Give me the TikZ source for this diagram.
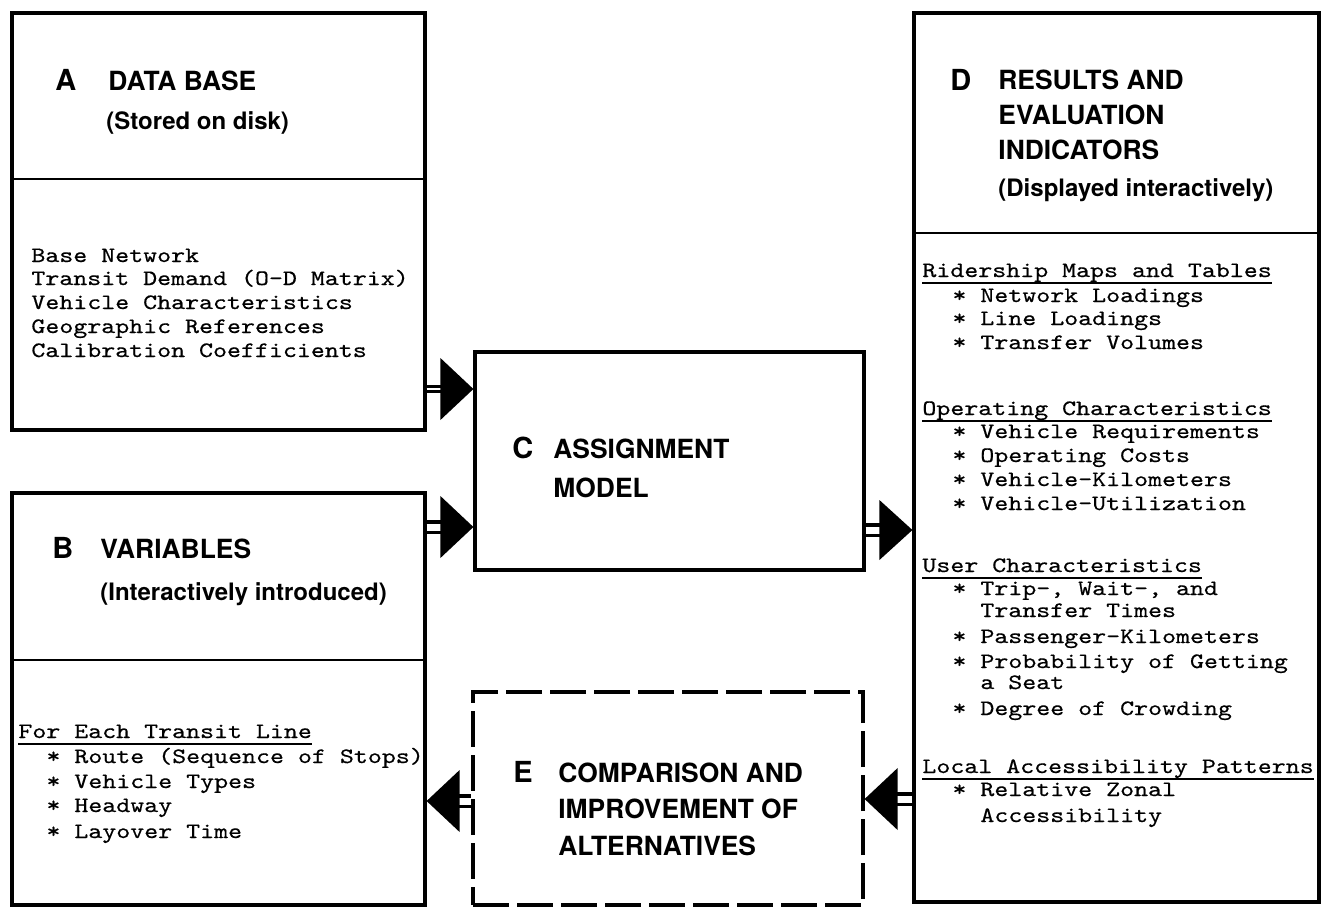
\documentclass[tikz,border=0pt]{standalone}
\usepackage{fontspec}
\setsansfont{TeX Gyre Heros}
% typewriter face for the listings, widened to a Courier-like cell
\newfontfamily\listfont[FakeStretch=1.21,FakeBold=0.5]{Latin Modern Mono}
\usetikzlibrary{fit}
% bullet placed one character cell before an item's text
\newcommand\bul{\llap{*\ }}
\begin{document}
\begin{tikzpicture}[x=0.5pt,y=-0.5pt,
  box/.style={draw, line width=1.6pt, inner sep=0pt},
  dbox/.style={box, dash pattern=on 18pt off 4pt},
  rule/.style={line width=1.4pt},
  letter/.style={anchor=base west, inner sep=0pt, font=\sffamily\bfseries\fontsize{14.5}{16}\selectfont},
  head/.style={anchor=base west, inner sep=0pt, font=\sffamily\bfseries\fontsize{13.2}{15}\selectfont},
  sub/.style={anchor=base west, inner sep=0pt, font=\sffamily\bfseries\fontsize{12}{14}\selectfont},
  mono/.style={anchor=base west, inner sep=0pt, font=\listfont\fontsize{11}{13}\selectfont},
  uline/.style={line width=0.8pt},
  stem/.style={line width=1.6pt, double=white, double distance=3.5pt},
  thinstem/.style={line width=1.2pt, double=white, double distance=1.2pt},
]
\useasboundingbox (0,0) rectangle (1321,907);

% ---------- boxes ----------
\node[box, fit={(12,13) (425,430)}] (A) {};
\node[box, fit={(12,493) (425,905)}] (B) {};
\node[box, fit={(475,352) (864,570)}] (C) {};
\node[box, fit={(914,13) (1319,902)}] (D) {};
\node[dbox, fit={(473,692) (863,905)}] (E) {};

\draw[rule] (A.west |- 0,179) -- (A.east |- 0,179);
\draw[rule] (B.west |- 0,660) -- (B.east |- 0,660);
\draw[rule] (D.west |- 0,233) -- (D.east |- 0,233);

% ---------- A: data base ----------
\node[letter] (Al) at (55,90) {A};
\node[head] (At) at (108,90) {DATA BASE};
\node[sub] (As) at (106,129) {(Stored on disk)};
\node[mono] (a1) at (31,262) {Base Network};
\node[mono] (a2) at (31,285) {Transit Demand (O-D Matrix)};
\node[mono] (a3) at (31,309) {Vehicle Characteristics};
\node[mono] (a4) at (31,333) {Geographic References};
\node[mono] (a5) at (31,357) {Calibration Coefficients};

% ---------- B: variables ----------
\node[letter] (Bl) at (52,558) {B};
\node[head] (Bt) at (100,558) {VARIABLES};
\node[sub] (Bs) at (100,600) {(Interactively introduced)};
\node[mono] (b1) at (18,738) {For Each Transit Line};
\draw[uline] ([yshift=-3pt]b1.base west) -- ([yshift=-3pt]b1.base east);
\node[mono] (b2) at (74,763) {\bul Route (Sequence of Stops)};
\node[mono] (b3) at (74,788) {\bul Vehicle Types};
\node[mono] (b4) at (74,812) {\bul Headway};
\node[mono] (b5) at (74,838) {\bul Layover Time};

% ---------- C: assignment model ----------
\node[letter] (Cl) at (512,458) {C};
\node[head] (Ct1) at (553,458) {ASSIGNMENT};
\node[head] (Ct2) at (553,497) {MODEL};

% ---------- D: results ----------
\node[letter] (Dl) at (950,90) {D};
\node[head] (Dt1) at (998,89) {RESULTS AND};
\node[head] (Dt2) at (998,124) {EVALUATION};
\node[head] (Dt3) at (998,159) {INDICATORS};
\node[sub] (Ds) at (998,196) {(Displayed interactively)};

\node[mono] (d1) at (922,277) {Ridership Maps and Tables};
\draw[uline] ([yshift=-3pt]d1.base west) -- ([yshift=-3pt]d1.base east);
\node[mono] (d2) at (980,302) {\bul Network Loadings};
\node[mono] (d3) at (980,325) {\bul Line Loadings};
\node[mono] (d4) at (980,349) {\bul Transfer Volumes};

\node[mono] (d5) at (922,415) {Operating Characteristics};
\draw[uline] ([yshift=-3pt]d5.base west) -- ([yshift=-3pt]d5.base east);
\node[mono] (d6) at (980,438) {\bul Vehicle Requirements};
\node[mono] (d7) at (980,462) {\bul Operating Costs};
\node[mono] (d8) at (980,486) {\bul Vehicle-Kilometers};
\node[mono] (d9) at (980,510) {\bul Vehicle-Utilization};

\node[mono] (d10) at (922,572) {User Characteristics};
\draw[uline] ([yshift=-3pt]d10.base west) -- ([yshift=-3pt]d10.base east);
\node[mono] (d11) at (980,595) {\bul Trip-, Wait-, and};
\node[mono] (d12) at (980,617) {Transfer Times};
\node[mono] (d13) at (980,643) {\bul Passenger-Kilometers};
\node[mono] (d14) at (980,668) {\bul Probability of Getting};
\node[mono] (d15) at (980,689) {a Seat};
\node[mono] (d16) at (980,715) {\bul Degree of Crowding};

\node[mono] (d17) at (922,773) {Local Accessibility Patterns};
\draw[uline] ([yshift=-3pt]d17.base west) -- ([yshift=-3pt]d17.base east);
\node[mono] (d18) at (980,796) {\bul Relative Zonal};
\node[mono] (d19) at (980,822) {Accessibility};

% ---------- E: comparison ----------
\node[letter] (El) at (513,782) {E};
\node[head] (Et1) at (558,782) {COMPARISON AND};
\node[head] (Et2) at (558,818) {IMPROVEMENT OF};
\node[head] (Et3) at (558,855) {ALTERNATIVES};

% ---------- connectors ----------
% A -> C
\coordinate (ac) at (C.west |- 0,389);
\draw[thinstem] (A.east |- ac) -- ([xshift=-15pt]ac);
\fill (ac) -- ++(-33,-31) -- ++(0,62) -- cycle;
% B -> C
\coordinate (bc) at (C.west |- 0,527);
\draw[stem] (B.east |- bc) -- ([xshift=-15pt]bc);
\fill (bc) -- ++(-33,-31) -- ++(0,62) -- cycle;
% C -> D
\coordinate (cd) at (D.west |- 0,530);
\draw[stem] (C.east |- cd) -- ([xshift=-15pt]cd);
\fill (cd) -- ++(-33,-30) -- ++(0,60) -- cycle;
% D -> E
\coordinate (de) at (E.east |- 0,799);
\draw[stem] (D.west |- de) -- ([xshift=15pt]de);
\fill (de) -- ++(33,-31) -- ++(0,62) -- cycle;
% E -> B
\coordinate (eb) at (B.east |- 0,801);
\draw[stem] (E.west |- eb) -- ([xshift=15pt]eb);
\fill (eb) -- ++(33,-31) -- ++(0,62) -- cycle;
\end{tikzpicture}
\end{document}
